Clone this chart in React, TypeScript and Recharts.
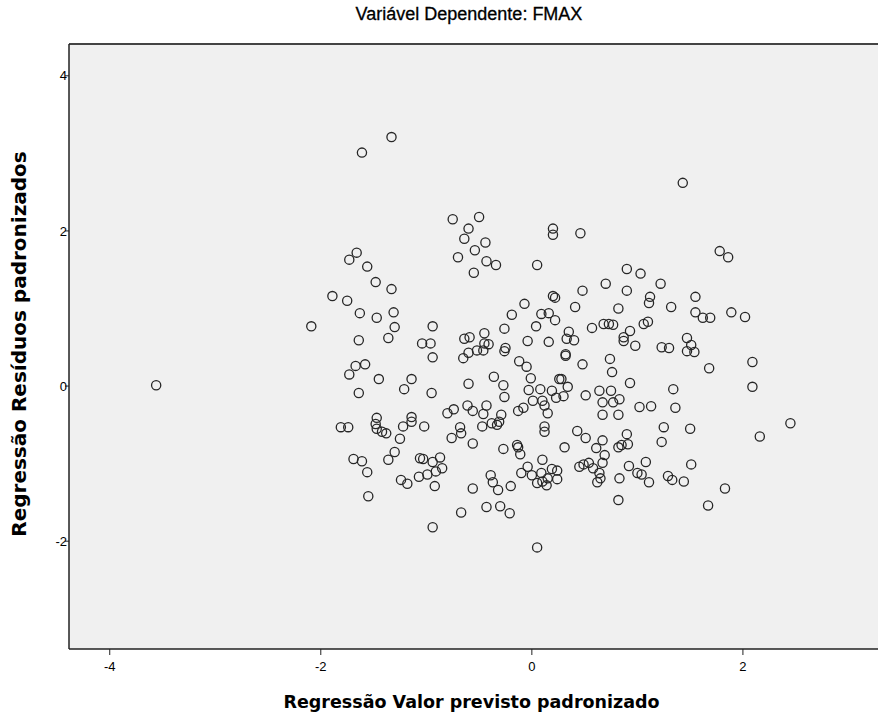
import { ScatterChart, Scatter, XAxis, YAxis, ReferenceArea, ReferenceLine } from 'recharts';

// Valor previsto padronizado (eixo X) e resíduo padronizado (eixo Y), caso a caso
const previsto = [
  -1.33, -1.61, 1.43, -0.75, -0.50, -0.60, -0.64, -0.44, -0.54, -0.70,
  -0.43, -0.34, -0.55, 0.20, 0.20, 0.46, 0.05, -1.66, -1.73, -1.56,
  1.78, 1.86, 0.90, 1.03, -1.48, -1.33, -1.89, -1.75, -1.63, -1.47,
  -1.31, -1.30, -1.36, -2.09, -1.64, -0.94, -1.04, -0.96, -0.94, -1.67,
  -1.58, -1.73, -1.45, -1.14, -1.21, -1.64, -0.95, -0.80, -0.74, -1.47,
  -1.14, -1.81, -1.74, -1.48, -1.47, -1.42, -1.38, -1.22, -1.14, -1.02,
  -0.68, -0.67, -0.76, -1.25, -1.30, -1.36, -1.69, -1.61, -1.56, -1.06,
  -1.03, -0.94, -0.87, -0.85, -0.91, -0.99, -1.07, -1.24, -1.18, -0.92,
  -1.55, -0.67, -0.94, 0.48, 0.70, 0.20, 0.22, -0.07, 0.41, -0.19,
  0.09, 0.16, 0.22, 0.04, -0.26, 0.82, 0.57, 0.68, 0.73, 0.77,
  -0.64, -0.59, -0.45, -0.45, -0.41, -0.46, -0.52, -0.60, -0.65, -0.25,
  -0.26, -0.04, 0.16, 0.35, 0.33, 0.40, 0.32, 0.32, -0.12, -0.05,
  0.48, 0.74, 0.76, -0.60, -0.36, -0.27, -0.01, 0.26, 0.28, 0.34,
  -0.03, 0.08, -0.26, 0.19, 0.23, 0.30, 0.51, 0.64, 0.75, 0.67,
  0.77, 0.83, 0.01, 0.10, 0.12, -0.61, -0.43, -0.56, -0.46, -0.13,
  -0.08, 0.15, -0.29, 0.67, 0.82, 1.22, 0.90, 1.12, 1.11, 1.32,
  1.55, 1.55, 1.62, 1.69, 1.89, 2.02, 1.06, 1.10, 0.93, 0.87,
  0.87, 0.98, 1.23, 1.30, 1.47, 1.51, 1.47, 1.54, 1.68, 2.09,
  0.93, 1.34, 2.09, 1.02, 1.13, 1.36, -0.47, -0.38, -0.33, -0.31,
  -0.56, -0.27, -0.14, -0.13, -0.11, 0.12, 0.12, 0.43, 0.51, 0.67,
  0.31, 0.61, 0.69, 0.67, 0.82, 0.10, -0.04, -0.10, 0.00, 0.09,
  0.19, 0.24, 0.05, 0.15, 0.14, 0.24, 0.10, 0.45, 0.49, 0.54,
  0.58, 0.64, 0.65, 0.62, 0.83, -0.39, -0.37, -0.32, -0.20, -0.56,
  -0.43, -0.30, -0.21, 0.05, 0.82, 1.25, 1.50, 2.16, 0.90, 0.91,
  0.85, 1.23, 0.92, 1.08, 1.00, 1.04, 1.11, 1.51, 1.29, 1.33,
  1.44, 1.83, 1.67, -3.56, 2.45,
];

const residuo = [
  3.21, 3.01, 2.62, 2.15, 2.18, 2.03, 1.90, 1.85, 1.75, 1.66,
  1.61, 1.56, 1.46, 2.03, 1.95, 1.97, 1.56, 1.72, 1.63, 1.54,
  1.74, 1.66, 1.51, 1.45, 1.34, 1.25, 1.16, 1.10, 0.94, 0.88,
  0.95, 0.76, 0.62, 0.77, 0.59, 0.77, 0.55, 0.55, 0.37, 0.26,
  0.28, 0.15, 0.09, 0.09, -0.04, -0.09, -0.09, -0.35, -0.30, -0.41,
  -0.40, -0.53, -0.53, -0.49, -0.55, -0.59, -0.61, -0.52, -0.46, -0.52,
  -0.53, -0.61, -0.67, -0.68, -0.85, -0.95, -0.94, -0.97, -1.11, -0.93,
  -0.94, -0.98, -0.92, -1.06, -1.10, -1.14, -1.17, -1.21, -1.26, -1.29,
  -1.42, -1.63, -1.82, 1.23, 1.32, 1.16, 1.14, 1.06, 1.02, 0.92,
  0.93, 0.94, 0.85, 0.77, 0.74, 1.00, 0.75, 0.80, 0.80, 0.79,
  0.61, 0.63, 0.68, 0.55, 0.54, 0.46, 0.46, 0.43, 0.36, 0.49,
  0.45, 0.58, 0.57, 0.70, 0.61, 0.59, 0.41, 0.39, 0.32, 0.25,
  0.28, 0.35, 0.18, 0.03, 0.12, 0.01, 0.10, 0.09, 0.09, -0.01,
  -0.05, -0.04, -0.14, -0.06, -0.15, -0.13, -0.12, -0.06, -0.06, -0.21,
  -0.21, -0.17, -0.19, -0.19, -0.25, -0.25, -0.25, -0.32, -0.36, -0.32,
  -0.28, -0.35, -0.37, -0.37, -0.37, 1.32, 1.23, 1.15, 1.07, 1.02,
  1.15, 0.95, 0.88, 0.88, 0.95, 0.89, 0.80, 0.83, 0.71, 0.63,
  0.58, 0.52, 0.50, 0.49, 0.62, 0.53, 0.45, 0.44, 0.23, 0.31,
  0.04, -0.04, -0.01, -0.27, -0.26, -0.28, -0.52, -0.48, -0.50, -0.46,
  -0.74, -0.81, -0.76, -0.79, -0.88, -0.52, -0.59, -0.58, -0.67, -0.70,
  -0.79, -0.80, -0.89, -0.99, -0.79, -0.95, -1.04, -1.12, -1.15, -1.12,
  -1.07, -1.09, -1.25, -1.19, -1.28, -1.20, -1.23, -1.04, -1.01, -0.99,
  -1.06, -1.12, -1.19, -1.24, -1.19, -1.15, -1.24, -1.34, -1.29, -1.32,
  -1.56, -1.55, -1.64, -2.08, -1.47, -0.53, -0.55, -0.65, -0.62, -0.75,
  -0.76, -0.72, -1.03, -0.98, -1.12, -1.14, -1.24, -1.01, -1.16, -1.21,
  -1.23, -1.32, -1.54, 0.01, -0.48,
];

const xTicks = [-4, -2, 0, 2];
const yTicks = [-2, 0, 2, 4];
const xDomain = [-4.386, 3.28];
const yDomain = [-3.39, 4.41];

const titulo = 'Variável Dependente: FMAX';
const rotuloX = 'Regressão Valor previsto padronizado';
const rotuloY = 'Regressão Resíduos padronizados';

const pontos = previsto.map((x, i) => ({ x, y: residuo[i] }));

const narrow = '"Liberation Sans Narrow", "Liberation Sans", Arial, sans-serif';
const bold = '"DejaVu Sans", Verdana, sans-serif';

const Circulo = (props: any) => {
  const { cx, cy } = props;
  if (cx == null || cy == null) return null;
  return <circle cx={cx} cy={cy} r={4.6} fill="none" stroke="#262626" strokeWidth={1.3} />;
};

export default function App() {
  return (
    <div style={{ position: 'absolute', left: 0, top: 0, width: 878, height: 724, background: '#fff', overflow: 'hidden' }}>
      <ScatterChart
        width={878}
        height={724}
        margin={{ top: 44, right: 0, bottom: 45, left: 29 }}
      >
        <XAxis
          type="number"
          dataKey="x"
          domain={xDomain}
          ticks={xTicks}
          allowDataOverflow
          height={30}
          tickSize={6}
          tickMargin={7}
          axisLine={{ stroke: '#222', strokeWidth: 1.5 }}
          tickLine={{ stroke: '#222', strokeWidth: 1 }}
          tick={{ fill: '#000', fontSize: 13, fontFamily: narrow }}
        />
        <YAxis
          type="number"
          dataKey="y"
          domain={yDomain}
          ticks={yTicks}
          allowDataOverflow
          width={40}
          tickSize={4}
          tickMargin={-2}
          axisLine={{ stroke: '#222', strokeWidth: 1.5 }}
          tickLine={{ stroke: '#222', strokeWidth: 1 }}
          tick={{ fill: '#000', fontSize: 13, fontFamily: narrow }}
        />
        <ReferenceArea
          x1={xDomain[0]}
          x2={xDomain[1]}
          y1={yDomain[0]}
          y2={yDomain[1]}
          fill="#F0F0F0"
          fillOpacity={1}
          stroke="none"
        />
        {/* borda superior da área do gráfico */}
        <ReferenceLine y={yDomain[1]} stroke="#444" strokeWidth={2} ifOverflow="visible" />
        <Scatter data={pontos} shape={<Circulo />} isAnimationActive={false} />
      </ScatterChart>
      <div
        style={{
          position: 'absolute', left: 0, width: 938, top: 4, textAlign: 'center',
          fontFamily: narrow, fontSize: 18, color: '#000', WebkitTextStroke: '0.3px #000',
        }}
      >
        {titulo}
      </div>
      <div
        style={{
          position: 'absolute', left: 0, width: 943, top: 692, textAlign: 'center',
          fontFamily: bold, fontWeight: 'bold', fontSize: 17.5, color: '#000',
        }}
      >
        {rotuloX}
      </div>
      <div
        style={{
          position: 'absolute', left: 19, top: 344, width: 0, height: 0,
        }}
      >
        <div
          style={{
            position: 'absolute', left: -250, top: -12, width: 500, textAlign: 'center',
            transform: 'rotate(-90deg)', transformOrigin: '250px 12px',
            fontFamily: bold, fontWeight: 'bold', fontSize: 20, lineHeight: '24px', color: '#000',
          }}
        >
          {rotuloY}
        </div>
      </div>
    </div>
  );
}
